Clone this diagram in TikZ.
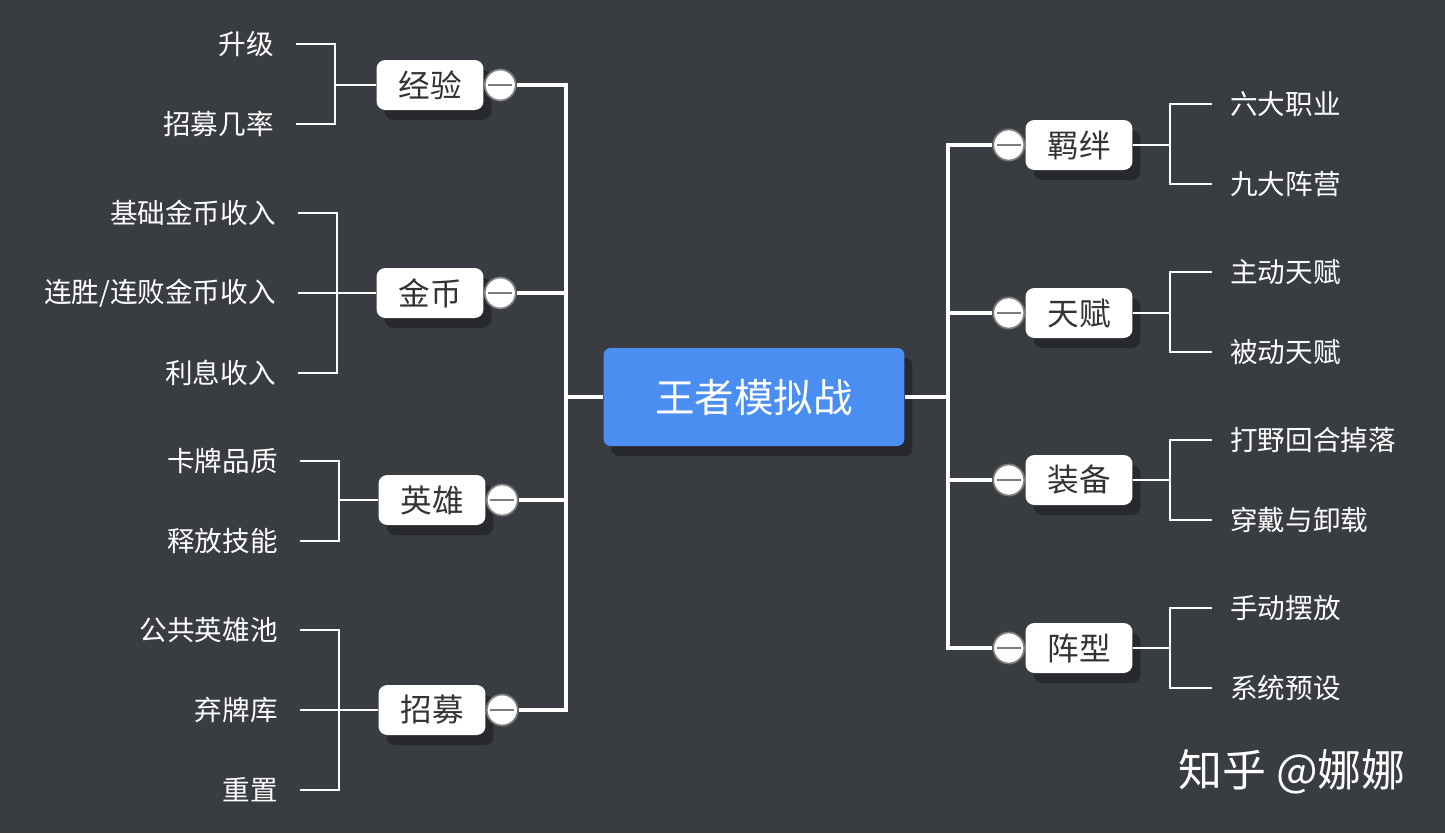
\documentclass[tikz,border=0pt]{standalone}
\usepackage{fontspec}
\setmainfont{Noto Sans CJK SC}
\usetikzlibrary{positioning, shadows}
\definecolor{bgdark}{RGB}{57,60,65}
\definecolor{rootblue}{RGB}{74,142,242}
\definecolor{shade}{RGB}{38,40,44}
\definecolor{boxtext}{RGB}{51,51,51}
\definecolor{knobgray}{RGB}{125,125,125}

\begin{document}
\begin{tikzpicture}[x=0.02cm, y=-0.02cm,
    root/.style={rectangle, rounded corners=4pt, fill=rootblue, text=white,
        minimum width=6.02cm, minimum height=1.96cm, font=\fontsize{22.5}{27}\selectfont,
        drop shadow={shadow xshift=0.16cm, shadow yshift=-0.2cm, fill=shade, opacity=0.9}},
    topic/.style={rectangle, rounded corners=5pt, fill=white, text=boxtext,
        minimum width=2.14cm, minimum height=1cm, font=\fontsize{18}{22}\selectfont,
        drop shadow={shadow xshift=0.16cm, shadow yshift=-0.2cm, fill=shade, opacity=0.9}},
    knob/.style={circle, draw=knobgray, line width=1pt, fill=white, minimum size=0.62cm, inner sep=0pt,
        path picture={\draw[knobgray, line width=1pt]
            ([xshift=-0.24cm]path picture bounding box.center) -- ([xshift=0.24cm]path picture bounding box.center);}},
    leafL/.style={anchor=east, inner xsep=0.44cm, text=white, font=\fontsize{15.7}{18}\selectfont},
    leafR/.style={anchor=west, inner xsep=0.36cm, text=white, font=\fontsize{15.7}{18}\selectfont},
    trunk/.style={draw=white, line width=1.8pt},
    twig/.style={draw=white, line width=1.2pt},
]
    % Background
    \fill[bgdark] (0,0) rectangle (1445,833);
    \useasboundingbox (0,0) rectangle (1445,833);

    % Central topic
    \node[root] (root) at (754,397) {王者模拟战};
    \coordinate (lsp) at (566,397);
    \coordinate (rsp) at (948,397);

    % Left topics
    \node[topic] (jingyan) at (430,85) {经验};
    \node[topic] (jinbi) at (430,293) {金币};
    \node[topic] (yingxiong) at (432,500) {英雄};
    \node[topic] (zhaomu) at (432,710) {招募};
    \node[knob, right=0pt of jingyan] (jingyan-k) {};
    \node[knob, right=0pt of jinbi] (jinbi-k) {};
    \node[knob, right=0pt of yingxiong] (yingxiong-k) {};
    \node[knob, right=0pt of zhaomu] (zhaomu-k) {};

    % Right topics
    \node[topic] (jiban) at (1079,145) {羁绊};
    \node[topic] (tianfu) at (1079,313) {天赋};
    \node[topic] (zhuangbei) at (1079,480) {装备};
    \node[topic] (zhenxing) at (1079,648) {阵型};
    \node[knob, left=0pt of jiban] (jiban-k) {};
    \node[knob, left=0pt of tianfu] (tianfu-k) {};
    \node[knob, left=0pt of zhuangbei] (zhuangbei-k) {};
    \node[knob, left=0pt of zhenxing] (zhenxing-k) {};

    % Trunk lines
    \draw[trunk] (lsp) -- (root.west);
    \draw[trunk] (root.east) -- (rsp);
    \draw[trunk] (jingyan-k.east) -| (lsp) |- (zhaomu-k.east);
    \draw[trunk] (jinbi-k.east) -- (jinbi-k.east -| lsp);
    \draw[trunk] (yingxiong-k.east) -- (yingxiong-k.east -| lsp);
    \draw[trunk] (jiban-k.west) -| (rsp) |- (zhenxing-k.west);
    \draw[trunk] (tianfu-k.west) -- (tianfu-k.west -| rsp);
    \draw[trunk] (zhuangbei-k.west) -- (zhuangbei-k.west -| rsp);

    % Left leaves
    \node[leafL] (shengji) at (296,44) {升级};
    \node[leafL] (jilv) at (296,124) {招募几率};
    \node[leafL] (jichu) at (298,213) {基础金币收入};
    \node[leafL] (liansheng) at (298,293) {连胜/连败金币收入};
    \node[leafL] (lixi) at (298,373) {利息收入};
    \node[leafL] (pinzhi) at (300,461) {卡牌品质};
    \node[leafL] (jineng) at (300,541) {释放技能};
    \node[leafL] (yxchi) at (300,630) {公共英雄池};
    \node[leafL] (qipai) at (300,710) {弃牌库};
    \node[leafL] (chongzhi) at (300,790) {重置};

    \draw[twig] (jingyan.west) -- ++(-41,0) coordinate (jingyan-b);
    \draw[twig] (shengji.east) -| (jingyan-b) |- (jilv.east);
    \draw[twig] (jinbi.west) -- ++(-39,0) coordinate (jinbi-b);
    \draw[twig] (jichu.east) -| (jinbi-b) |- (lixi.east);
    \draw[twig] (liansheng.east) -- (jinbi-b);
    \draw[twig] (yingxiong.west) -- ++(-39,0) coordinate (yingxiong-b);
    \draw[twig] (pinzhi.east) -| (yingxiong-b) |- (jineng.east);
    \draw[twig] (zhaomu.west) -- ++(-39,0) coordinate (zhaomu-b);
    \draw[twig] (yxchi.east) -| (zhaomu-b) |- (chongzhi.east);
    \draw[twig] (qipai.east) -- (zhaomu-b);

    % Right leaves
    \node[leafR] (zhiye) at (1212,104) {六大职业};
    \node[leafR] (zhenying) at (1212,184) {九大阵营};
    \node[leafR] (zhudong) at (1212,272) {主动天赋};
    \node[leafR] (beidong) at (1212,352) {被动天赋};
    \node[leafR] (diaoluo) at (1212,440) {打野回合掉落};
    \node[leafR] (chuandai) at (1212,520) {穿戴与卸载};
    \node[leafR] (shoudong) at (1212,608) {手动摆放};
    \node[leafR] (yushe) at (1212,688) {系统预设};

    \draw[twig] (jiban.east) -- ++(37,0) coordinate (jiban-b);
    \draw[twig] (zhiye.west) -| (jiban-b) |- (zhenying.west);
    \draw[twig] (tianfu.east) -- ++(37,0) coordinate (tianfu-b);
    \draw[twig] (zhudong.west) -| (tianfu-b) |- (beidong.west);
    \draw[twig] (zhuangbei.east) -- ++(37,0) coordinate (zhuangbei-b);
    \draw[twig] (diaoluo.west) -| (zhuangbei-b) |- (chuandai.west);
    \draw[twig] (zhenxing.east) -- ++(37,0) coordinate (zhenxing-b);
    \draw[twig] (shoudong.west) -| (zhenxing-b) |- (yushe.west);

    % Watermark
    \node[text=white, font=\fontsize{25}{30}\selectfont] (mark) at (1292,772) {知乎 @娜娜};
\end{tikzpicture}
\end{document}
